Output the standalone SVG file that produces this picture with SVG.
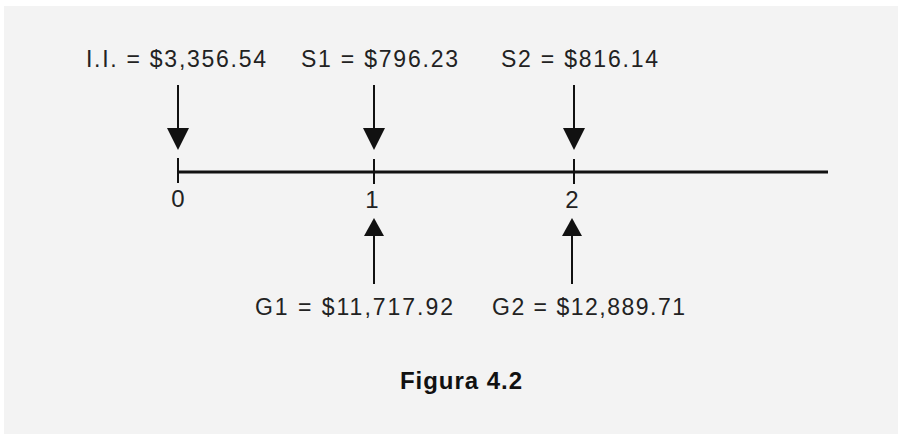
<svg xmlns="http://www.w3.org/2000/svg" width="898" height="434" viewBox="0 0 898 434">
<style>
.lbl{font-family:"Liberation Sans",Arial,sans-serif;font-size:23px;fill:#222}
.num{font-family:"Liberation Sans",Arial,sans-serif;font-size:24px;fill:#222;text-anchor:middle}
.ttl{font-family:"Liberation Sans",Arial,sans-serif;font-size:24px;font-weight:bold;fill:#111}
.ln{stroke:#111;stroke-width:2;fill:none}
.axis{stroke:#111;stroke-width:3;fill:none}
.head{fill:#111}
</style>
<rect x="0" y="0" width="898" height="434" fill="#ffffff"/>
<rect x="4" y="6" width="894" height="428" fill="#f3f3f3"/>
<g id="axis">
<line class="axis" x1="178" y1="172" x2="828" y2="172"/>
<line class="ln" x1="178" y1="158" x2="178" y2="183"/>
<line class="ln" x1="374" y1="159" x2="374" y2="184"/>
<line class="ln" x1="574" y1="159" x2="574" y2="184"/>
</g>
<g id="connectors">
<line class="ln" x1="178" y1="85" x2="178" y2="130"/>
<polygon class="head" points="167,128 189,128 178,150"/>
<line class="ln" x1="374" y1="85" x2="374" y2="130"/>
<polygon class="head" points="363,128 385,128 374,150"/>
<line class="ln" x1="574" y1="85" x2="574" y2="130"/>
<polygon class="head" points="563,128 585,128 574,150"/>
<line class="ln" x1="374" y1="233" x2="374" y2="284"/>
<polygon class="head" points="364,236 384,236 374,218"/>
<line class="ln" x1="572" y1="233" x2="572" y2="284"/>
<polygon class="head" points="562,236 582,236 572,218"/>
</g>
<g id="n_ii"><text class="lbl" x="86" y="67" textLength="180" lengthAdjust="spacing">I.I. = $3,356.54</text></g>
<g id="n_s1"><text class="lbl" x="301" y="67" textLength="157" lengthAdjust="spacing">S1 = $796.23</text></g>
<g id="n_s2"><text class="lbl" x="501" y="67" textLength="157" lengthAdjust="spacing">S2 = $816.14</text></g>
<g id="n_0"><text class="num" x="178" y="207">0</text></g>
<g id="n_1"><text class="num" x="372" y="208">1</text></g>
<g id="n_2"><text class="num" x="572" y="208">2</text></g>
<g id="n_g1"><text class="lbl" x="255" y="315" textLength="198" lengthAdjust="spacing">G1 = $11,717.92</text></g>
<g id="n_g2"><text class="lbl" x="492" y="315" textLength="193" lengthAdjust="spacing">G2 = $12,889.71</text></g>
<g id="n_title"><text class="ttl" x="400" y="389" textLength="122" lengthAdjust="spacing">Figura 4.2</text></g>
</svg>
